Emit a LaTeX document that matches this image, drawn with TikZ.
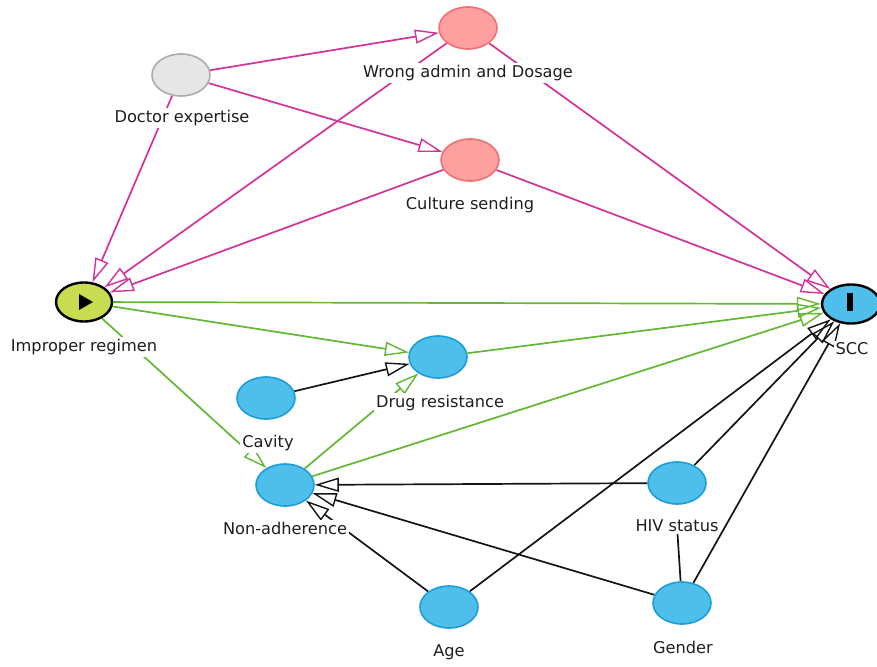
\documentclass[tikz,border=0pt]{standalone}
\usepackage{fontspec}
\setmainfont{DejaVu Sans}
\usetikzlibrary{shapes.geometric,arrows.meta,backgrounds}
\definecolor{pinkE}{RGB}{212,50,155}
\definecolor{greenE}{RGB}{98,184,50}
\definecolor{blackE}{RGB}{20,20,20}
\definecolor{nodeblue}{RGB}{78,190,235}
\definecolor{nodeblueb}{RGB}{28,158,218}
\definecolor{nodepink}{RGB}{255,160,160}
\definecolor{nodepinkb}{RGB}{242,112,112}
\definecolor{nodegray}{RGB}{230,230,230}
\definecolor{nodegrayb}{RGB}{172,172,172}
\definecolor{nodeexp}{RGB}{200,220,82}
\definecolor{textc}{RGB}{30,30,30}
\begin{document}
\begin{tikzpicture}[x=1pt,y=-1pt,
  var/.style={ellipse, minimum width=58pt, minimum height=42pt, inner sep=0pt, line width=1.6pt},
  adj/.style={var, fill=nodeblue, draw=nodeblueb},
  bias/.style={var, fill=nodepink, draw=nodepinkb},
  unobs/.style={var, fill=nodegray, draw=nodegrayb},
  expo/.style={var, fill=nodeexp, draw=black, line width=2.4pt, minimum width=56pt, minimum height=39pt},
  outc/.style={var, fill=nodeblue, draw=black, line width=2.4pt, minimum width=58pt, minimum height=39pt},
  lbl/.style={fill=white, inner sep=2pt, text=textc, font=\fontsize{16.2}{19}\selectfont},
  tip/.style={-{Triangle[open,length=24pt,width=14pt,line width=1.4pt]}},
  pe/.style={draw=pinkE, line width=1.7pt, tip},
  ge/.style={draw=greenE, line width=1.7pt, tip},
  be/.style={draw=blackE, line width=1.7pt, tip},
  bl/.style={draw=blackE, line width=1.7pt},
]
\useasboundingbox (0,0) rectangle (877,666);
\clip (0,0) rectangle (877,666);

% nodes
\node[unobs] (doc) at (181,75) {};
\node[bias] (wrong) at (468,28) {};
\node[bias] (cult) at (470,160) {};
\node[expo] (imp) at (84,302) {};
\node[outc] (scc) at (851,304) {};
\node[adj] (drug) at (438,357) {};
\node[adj] (cav) at (266,398) {};
\node[adj] (non) at (285,485) {};
\node[adj] (hiv) at (677,483) {};
\node[adj] (age) at (449,607) {};
\node[adj] (gen) at (682,603) {};

\fill[black] (79,294) -- (79,310) -- (93,302) -- cycle;
\fill[black] (847,293) rectangle (853,311);

% labels
\node[lbl] (docL) at (182,118) {Doctor expertise};
\node[lbl] (wrongL) at (468,73) {Wrong admin and Dosage};
\node[lbl] (cultL) at (470,205) {Culture sending};
\node[lbl] (impL) at (84,347) {Improper regimen};
\node[lbl] (sccL) at (852,349) {SCC};
\node[lbl] (drugL) at (440,403) {Drug resistance};
\node[lbl] (cavL) at (268,443) {Cavity};
\node[lbl] (nonL) at (285,528) {Non-adherence};
\node[lbl] (hivL) at (677,526) {HIV status};
\node[lbl] (ageL) at (449,652) {Age};
\node[lbl] (genL) at (683,647) {Gender};

% edges
\begin{scope}[on background layer]
  \fill[white] (0,0) rectangle (877,666);
  % pink (biasing) paths
  \draw[pe] (doc) -- (wrong);
  \draw[pe] (doc) -- (cult);
  \draw[pe] (doc) -- (imp);
  \draw[pe] (wrong) -- (imp);
  \draw[pe] (wrong) -- (scc);
  \draw[pe] (cult) -- (imp);
  \draw[pe] (cult) -- (scc);
  % green (causal) paths
  \draw[ge] (imp) -- (scc);
  \draw[ge] (imp) -- (drug);
  \draw[ge] (imp) -- (non);
  \draw[ge] (drug) -- (scc);
  \draw[ge] (non) -- (drug);
  \draw[ge] (non) -- (scc);
  % black edges
  \draw[be] (cav) -- (drug);
  \draw[be] (hiv) -- (non);
  \draw[be] (gen) -- (non);
  \draw[be] (age) -- (non);
  \draw[be] (age) -- (scc);
  \draw[be] (hiv) -- (scc);
  \draw[be] (gen) -- (scc);
  \draw[bl] (gen) -- (hivL);
\end{scope}
\end{tikzpicture}
\end{document}
